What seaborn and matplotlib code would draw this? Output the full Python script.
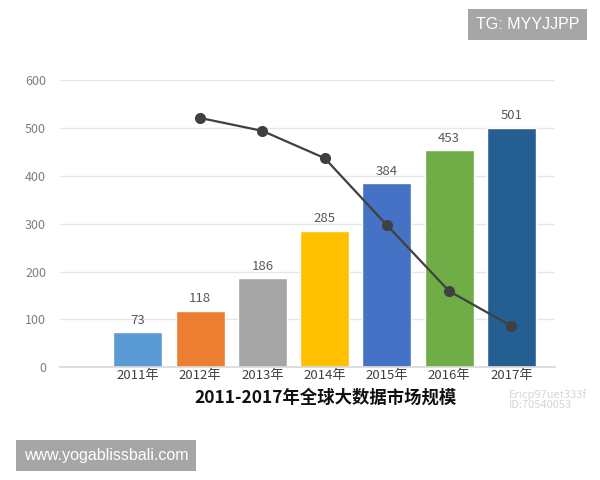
import pandas as pd
import seaborn as sns
import matplotlib.pyplot as plt

# market size by year (bars)
years = ['2011年', '2012年', '2013年', '2014年', '2015年', '2016年', '2017年']
market_size = [73, 118, 186, 285, 384, 453, 501]
bar_colors = ['#5B9BD5', '#ED7D31', '#A5A5A5', '#FFC000', '#4472C4', '#70AD47', '#255E91']

# trend line (starts in 2012), values read on the same scale
line_years = ['2012年', '2013年', '2014年', '2015年', '2016年', '2017年']
line_values = [521, 494, 437, 297, 159, 86]

title = '2011-2017年全球大数据市场规模'

sns.set_theme(style='white')
plt.rcParams['font.family'] = ['Noto Sans CJK SC', 'DejaVu Sans']

fig = plt.figure(figsize=(6, 4.8), dpi=100)
ax = fig.add_axes([0.1, 0.235, 0.825, 0.598])

df = pd.DataFrame({'year': years, 'size': market_size})
sns.barplot(data=df, x='year', y='size', hue='year', palette=bar_colors,
            width=0.79, legend=False, saturation=1, ax=ax, zorder=2)

# value labels above the bars
for container in ax.containers:
    ax.bar_label(container, padding=4, fontsize=9.5, color='#595959')

# line with markers, placed at the bar categories
line_df = pd.DataFrame({'pos': [years.index(y) for y in line_years], 'value': line_values})
sns.lineplot(data=line_df, x='pos', y='value', color='#404040', linewidth=1.6,
             marker='o', markersize=8, markeredgewidth=0, ax=ax, zorder=3)

ax.set_ylim(0, 600)
ax.set_xlim(-1.25, 6.7)
ax.set_yticks(range(0, 601, 100))
ax.yaxis.grid(True, color='#E6E6E6', linewidth=1)
ax.set_axisbelow(True)
for side in ['top', 'right', 'left']:
    ax.spines[side].set_visible(False)
ax.spines['bottom'].set_color('#D9D9D9')
ax.tick_params(axis='y', colors='#7F7F7F', labelsize=9, length=0, pad=10)
ax.tick_params(axis='x', colors='#404040', labelsize=9.5, length=0, pad=1)
ax.set_xlabel('')
ax.set_ylabel('')

fig.text(0.542, 0.172, title, ha='center', va='center', fontsize=12.5,
         fontweight='bold', color='#111111')

# overlay marks from the screenshot
fig.text(0.879, 0.948, 'TG: MYYJJPP', ha='center', va='center', fontsize=11.5,
         family='Liberation Sans', color='white',
         bbox=dict(boxstyle='square,pad=0.5', fc='#A6A6A6', ec='none'))
fig.text(0.177, 0.052, 'www.yogablissbali.com', ha='center', va='center', fontsize=11.5,
         family='Liberation Sans', color='white',
         bbox=dict(boxstyle='square,pad=0.5', fc='#A6A6A6', ec='none'))
fig.text(0.848, 0.168, 'Ericp97uet333f\nID:70540053', ha='left', va='center',
         fontsize=8, color='#D5D5D5', linespacing=1.0)

fig.savefig('out.png', dpi=100, facecolor='white')
